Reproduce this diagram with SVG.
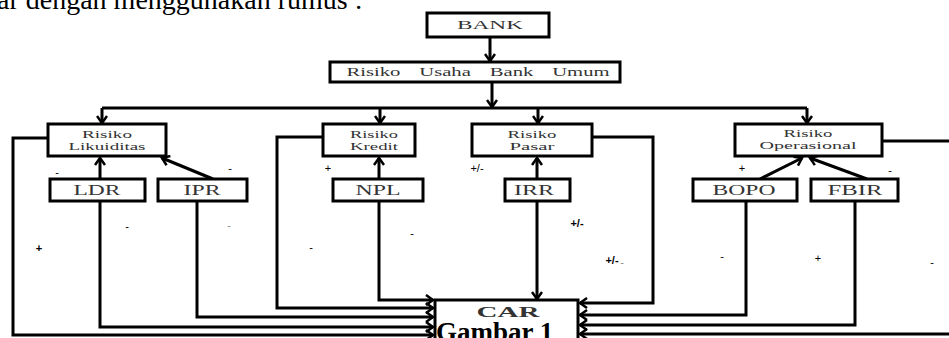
<svg xmlns="http://www.w3.org/2000/svg" width="949" height="338" viewBox="0 0 949 338">
<style>
.box{fill:#fff;stroke:#000;stroke-width:3}
.t{font-family:"Liberation Serif",serif;font-size:11px;text-anchor:middle;fill:#333}
.tm{font-family:"Liberation Serif",serif;font-size:12px;text-anchor:middle;fill:#333}
.tb{font-family:"Liberation Serif",serif;font-size:14px;text-anchor:middle;fill:#333}
.ln{fill:none;stroke:#000;stroke-width:3}
.ar{marker-end:url(#ah)}
.lb{font-family:"Liberation Sans",sans-serif;font-size:11px;text-anchor:middle;fill:#000}
.gr{fill:#888}
</style>
<defs>
<marker id="ah" markerUnits="userSpaceOnUse" markerWidth="12" markerHeight="12" refX="9" refY="6" orient="auto">
<path d="M2,1 L9,6 L2,11" fill="none" stroke="#000" stroke-width="2.5"/>
</marker>
</defs>
<text x="-3" y="9" font-family="Liberation Serif,serif" font-size="28">ar dengan menggunakan rumus :</text>

<g id="connectors">
<path class="ln ar" d="M490,37 V61"/>
<path class="ln ar" d="M492,82 V107"/>
<path class="ln" d="M102,108 H807"/>
<path class="ln ar" d="M102,108 V123"/>
<path class="ln ar" d="M380,108 V123"/>
<path class="ln ar" d="M538,108 V123"/>
<path class="ln ar" d="M807,108 V123"/>
<path class="ln ar" d="M100,179 V158"/>
<path class="ln ar" d="M213,179 L162,158"/>
<path class="ln ar" d="M379,179 V158"/>
<path class="ln ar" d="M537,179 V158"/>
<path class="ln ar" d="M760,179 L802,158"/>
<path class="ln ar" d="M867,179 L810,158"/>
<path class="ln ar" d="M100,201 V327 H433"/>
<path class="ln ar" d="M197,201 V317 H433"/>
<path class="ln ar" d="M379,201 V300 H433"/>
<path class="ln ar" d="M537,201 V299"/>
<path class="ln ar" d="M746,201 V315 H580"/>
<path class="ln ar" d="M855,201 V325 H580"/>
<path class="ln ar" d="M48,138 H13 V335 H433"/>
<path class="ln ar" d="M323,137 H277 V308 H433"/>
<path class="ln ar" d="M592,137 H653 V303 H580"/>
<path class="ln" d="M882,141 H952"/>
<path class="ln ar" d="M952,334 H580"/>
</g>

<g id="bank"><rect class="box" x="427" y="13" width="122" height="24"/><text class="tm" x="490" y="29" textLength="66" lengthAdjust="spacingAndGlyphs">BANK</text></g>
<g id="usaha"><rect class="box" x="330" y="62" width="290" height="20"/><text class="tm" x="478" y="76" textLength="263" lengthAdjust="spacingAndGlyphs" word-spacing="8">Risiko Usaha Bank Umum</text></g>
<g id="likuiditas"><rect class="box" x="48" y="124" width="118" height="32"/><text class="t" x="107" y="138" textLength="50" lengthAdjust="spacingAndGlyphs">Risiko</text><text class="t" x="107" y="150" textLength="77" lengthAdjust="spacingAndGlyphs">Likuiditas</text></g>
<g id="kredit"><rect class="box" x="323" y="124" width="92" height="32"/><text class="t" x="374" y="138" textLength="48" lengthAdjust="spacingAndGlyphs">Risiko</text><text class="t" x="374" y="150" textLength="48" lengthAdjust="spacingAndGlyphs">Kredit</text></g>
<g id="pasar"><rect class="box" x="472" y="124" width="120" height="32"/><text class="t" x="532" y="138" textLength="49" lengthAdjust="spacingAndGlyphs">Risiko</text><text class="t" x="532" y="150" textLength="45" lengthAdjust="spacingAndGlyphs">Pasar</text></g>
<g id="operasional"><rect class="box" x="735" y="124" width="147" height="32"/><text class="t" x="808" y="137" textLength="49" lengthAdjust="spacingAndGlyphs">Risiko</text><text class="t" x="808" y="149" textLength="97" lengthAdjust="spacingAndGlyphs">Operasional</text></g>
<g id="ldr"><rect class="box" x="50" y="179" width="95" height="22"/><text class="tb" x="97" y="195" textLength="47" lengthAdjust="spacingAndGlyphs">LDR</text></g>
<g id="ipr"><rect class="box" x="158" y="179" width="89" height="22"/><text class="tb" x="202" y="195" textLength="37" lengthAdjust="spacingAndGlyphs">IPR</text></g>
<g id="npl"><rect class="box" x="333" y="179" width="90" height="22"/><text class="tb" x="378" y="195" textLength="45" lengthAdjust="spacingAndGlyphs">NPL</text></g>
<g id="irr"><rect class="box" x="505" y="179" width="65" height="22"/><text class="tb" x="534" y="195" textLength="40" lengthAdjust="spacingAndGlyphs">IRR</text></g>
<g id="bopo"><rect class="box" x="693" y="179" width="104" height="22"/><text class="tb" x="744" y="195" textLength="63" lengthAdjust="spacingAndGlyphs">BOPO</text></g>
<g id="fbir"><rect class="box" x="811" y="179" width="87" height="22"/><text class="tb" x="855" y="195" textLength="55" lengthAdjust="spacingAndGlyphs">FBIR</text></g>
<g id="car"><rect class="box" x="435" y="300" width="143" height="50"/><text class="tb" x="508" y="317" font-weight="bold" textLength="63" lengthAdjust="spacingAndGlyphs">CAR</text></g>
<text x="436" y="341" font-family="Liberation Serif,serif" font-size="27" font-weight="bold">Gambar 1</text>

<g id="labels">
<text class="lb" x="57" y="176">-</text>
<text class="lb" x="230" y="172">-</text>
<text class="lb" x="127" y="230">-</text>
<text class="lb gr" x="229" y="229">-</text>
<text class="lb" x="39" y="252" font-size="15" font-weight="bold">+</text>
<text class="lb" x="311" y="251">-</text>
<text class="lb" x="412" y="237">-</text>
<text class="lb" x="328" y="172">+</text>
<text class="lb" x="477" y="172" font-size="10">+/-</text>
<text class="lb" x="577" y="227" font-weight="bold">+/-</text>
<text class="lb" x="612" y="264" font-weight="bold">+/-</text>
<text class="lb" x="742" y="172">+</text>
<text class="lb" x="890" y="174">-</text>
<text class="lb gr" x="622" y="266">-</text>
<text class="lb" x="722" y="260">-</text>
<text class="lb" x="818" y="262">+</text>
<text class="lb" x="932" y="266">-</text>
</g>
</svg>
